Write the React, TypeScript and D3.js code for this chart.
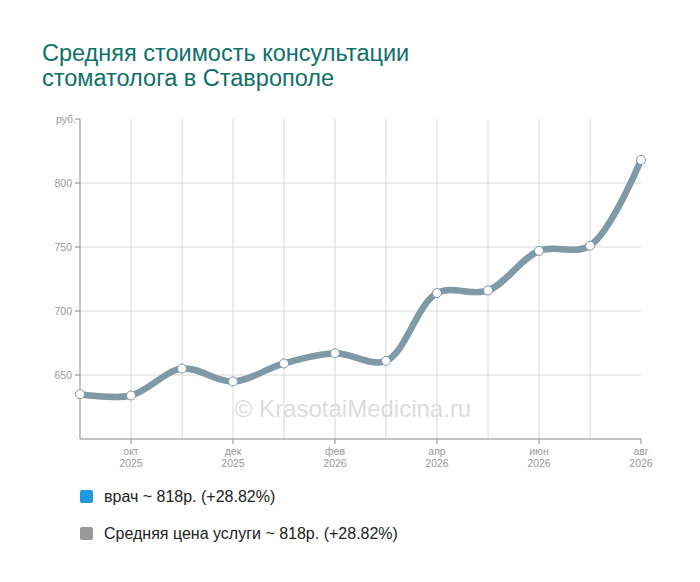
import React from "react";
import * as d3 from "d3";

const months = ["сен 2025", "окт 2025", "ноя 2025", "дек 2025", "янв 2026", "фев 2026", "мар 2026", "апр 2026", "май 2026", "июн 2026", "июл 2026", "авг 2026"];
const tickMonths = ["окт", "", "дек", "", "фев", "", "апр", "", "июн", "", "авг"];
const tickYears = ["2025", "", "2025", "", "2026", "", "2026", "", "2026", "", "2026"];
const doctorValues = [635, 634, 655, 645, 659, 667, 661, 714, 716, 747, 751, 818];
const avgValues = [635, 634, 655, 645, 659, 667, 661, 714, 716, 747, 751, 818];
const yTicks = [650, 700, 750, 800];
const legendLabels = ["врач ~ 818р. (+28.82%)", "Средняя цена услуги ~ 818р. (+28.82%)"];
const legendColors = ["#1e9be0", "#999999"];

export default function App() {
  const W = 700, H = 582;
  const x = d3.scaleLinear().domain([0, months.length - 1]).range([80, 641]);
  const y = d3.scaleLinear().domain([600, 850]).range([439, 119]);
  const line = d3.line<number>().x((_, i) => x(i)).y((d) => y(d)).curve(d3.curveCatmullRom.alpha(0.5));
  const font = "Arial, 'Liberation Sans', sans-serif";
  return (
    <svg width={W} height={H} style={{ position: "absolute", left: 0, top: 0 }} fontFamily={font}>
      <rect width={W} height={H} fill="#fff" />
      <text x={42} y={61} fontSize={23.5} fill="#0e7068">Средняя стоимость консультации</text>
      <text x={42} y={86} fontSize={23.5} fill="#0e7068">стоматолога в Ставрополе</text>
      {yTicks.map((t) => (
        <g key={t}>
          <line x1={80} x2={641} y1={y(t)} y2={y(t)} stroke="#d8d8d8" />
          <line x1={75} x2={80} y1={y(t)} y2={y(t)} stroke="#888" />
          <text x={72} y={y(t) + 4} fontSize={10.5} fill="#999" textAnchor="end">{t}</text>
        </g>
      ))}
      {months.map((m, i) => i > 0 && i < months.length - 1 ? (
        <line key={m} x1={x(i)} x2={x(i)} y1={119} y2={439} stroke="#d8d8d8" />
      ) : null)}
      <text x={76} y={123} fontSize={10.5} fill="#999" textAnchor="end">руб.</text>
      <line x1={75} x2={80} y1={119} y2={119} stroke="#888" />
      <line x1={80} x2={80} y1={119} y2={439} stroke="#888" />
      <line x1={80} x2={641} y1={439} y2={439} stroke="#888" />
      {tickMonths.map((m, k) => m ? (
        <g key={k}>
          <line x1={x(k + 1)} x2={x(k + 1)} y1={439} y2={444} stroke="#888" />
          <text x={x(k + 1)} y={455} fontSize={10.5} fill="#999" textAnchor="middle">{m}</text>
          <text x={x(k + 1)} y={467} fontSize={10.5} fill="#999" textAnchor="middle">{tickYears[k]}</text>
        </g>
      ) : null)}
      <text x={353} y={417} fontSize={24} fill="#dcdcdc" textAnchor="middle">© KrasotaiMedicina.ru</text>
      <path d={line(avgValues) || ""} fill="none" stroke="#999" strokeWidth={6.5} />
      <path d={line(doctorValues) || ""} fill="none" stroke="#1e9be0" strokeOpacity={0.2} strokeWidth={6.5} />
      {doctorValues.map((v, i) => (
        <circle key={i} cx={x(i)} cy={y(v)} r={4.5} fill="#fff" stroke="#7f98a8" strokeWidth={1} />
      ))}
      {legendLabels.map((l, i) => (
        <g key={l}>
          <rect x={80} y={490 + i * 37} width={13} height={13} rx={2} fill={legendColors[i]} />
          <text x={104} y={502 + i * 37} fontSize={16} fill="#222">{l}</text>
        </g>
      ))}
    </svg>
  );
}
